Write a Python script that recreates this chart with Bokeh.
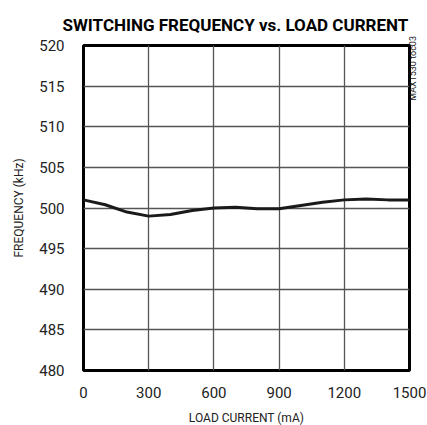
import math
from bokeh.plotting import figure
from bokeh.models import Range1d, FixedTicker, LinearAxis, Title
from bokeh.embed import file_html
from bokeh.resources import INLINE

current_ma = [0, 100, 200, 300, 400, 500, 600, 700, 800, 900, 1000, 1100, 1200, 1300, 1400, 1500]
freq_khz = [501.0, 500.4, 499.5, 499.0, 499.2, 499.7, 500.0, 500.1, 499.9, 499.9, 500.3, 500.7, 501.0, 501.1, 501.0, 501.0]
x_ticks = [0, 300, 600, 900, 1200, 1500]
y_ticks = [480, 485, 490, 495, 500, 505, 510, 515, 520]
fig_id_pos = [513.2]
fig_id_text = "MAX1530 toc03"

FONT = "Roboto"

p = figure(frame_width=326, frame_height=325, output_backend="svg", toolbar_location=None,
           x_range=Range1d(0, 1500), y_range=Range1d(480, 520),
           min_border_left=83, min_border_right=18, min_border_top=45, min_border_bottom=50)

p.title = Title(text="SWITCHING FREQUENCY vs. LOAD CURRENT", align="left",
                text_font=FONT, text_font_style="bold", text_font_size="17px",
                text_color="black", offset=-21, standoff=21)

p.outline_line_color = "black"
p.outline_line_width = 3

p.xgrid.ticker = FixedTicker(ticks=x_ticks)
p.ygrid.ticker = FixedTicker(ticks=y_ticks)
for g in (p.xgrid, p.ygrid):
    g.grid_line_color = "#555555"
    g.grid_line_width = 1.3

p.xaxis.ticker = FixedTicker(ticks=x_ticks)
p.yaxis.ticker = FixedTicker(ticks=y_ticks)
for ax in (p.xaxis, p.yaxis):
    ax.axis_line_color = None
    ax.major_tick_line_color = None
    ax.minor_tick_line_color = None
    ax.major_tick_in = 0
    ax.major_tick_out = 0
    ax.major_label_text_font = FONT
    ax.major_label_text_font_size = "15px"
    ax.major_label_text_color = "#222222"
    ax.axis_label_text_font = FONT
    ax.axis_label_text_font_size = "12px"
    ax.axis_label_text_font_style = "normal"
    ax.axis_label_text_color = "#222222"

p.xaxis.axis_label = "LOAD CURRENT (mA)"
p.yaxis.axis_label = "FREQUENCY (kHz)"
p.xaxis.major_label_standoff = 16
p.yaxis.major_label_standoff = 19
p.xaxis.axis_label_standoff = 10
p.yaxis.axis_label_standoff = 10

# figure ID as a single tick label on a right-hand axis
right = LinearAxis(ticker=FixedTicker(ticks=fig_id_pos),
                   major_label_overrides={fig_id_pos[0]: fig_id_text},
                   major_label_orientation=math.pi / 2,
                   major_label_text_font=FONT, major_label_text_font_size="9px",
                   major_label_text_color="#111111", major_label_standoff=3,
                   axis_line_color=None, major_tick_line_color=None,
                   minor_tick_line_color=None, major_tick_in=0, major_tick_out=0)
p.add_layout(right, "right")

p.line(current_ma, freq_khz, line_color="#1a1a1a", line_width=3)

open("out.html", "w").write(file_html(p, INLINE))
